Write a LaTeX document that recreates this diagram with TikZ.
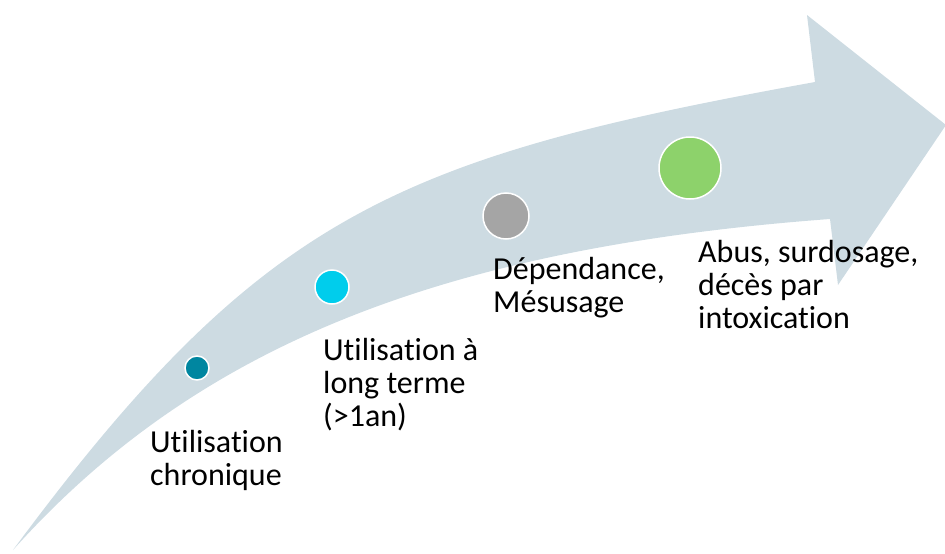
\documentclass[tikz,border=0pt]{standalone}
\usepackage{fontspec}
\setmainfont{Carlito}[Ligatures=NoCommon]
\definecolor{bandblue}{RGB}{205,219,226}
\definecolor{tealdot}{RGB}{0,134,160}
\definecolor{cyandot}{RGB}{0,205,236}
\definecolor{graydot}{RGB}{165,165,165}
\definecolor{greendot}{RGB}{141,210,107}

\begin{document}
\begin{tikzpicture}[x=1pt, y=-1pt,
  dot/.style={circle, draw=white, line width=1.5pt, inner sep=0pt},
  lbl/.style={anchor=base west, align=left, inner sep=0pt, font=\fontsize{32}{33}\selectfont}
]
  \useasboundingbox (0,0) rectangle (945,554);

  % curved arrow
  \fill[bandblue] (13,550) .. controls (262,214) and (395,158) .. (815,82)
    -- (807,15) -- (946,125) -- (838,285) -- (830,219)
    .. controls (440,248) and (195,347) .. cycle;

  \node[dot, fill=tealdot, minimum size=24pt]  (chron) at (197,368) {};
  \node[dot, fill=cyandot, minimum size=34pt]  (long)  at (332,287) {};
  \node[dot, fill=graydot, minimum size=46pt]  (dep)   at (506,216) {};
  \node[dot, fill=greendot, minimum size=62pt] (abus)  at (690,168) {};

  % base anchor sits on the last line
  \node[lbl] (chronlbl) at (150,485) {Utilisation\\chronique};
  \node[lbl] (longlbl)  at (323,426) {Utilisation à\\long terme\\(>1an)};
  \node[lbl] (deplbl)   at (493,312) {Dépendance,\\Mésusage};
  \node[lbl] (abuslbl)  at (698,328) {Abus, surdosage,\\décès par\\intoxication};
\end{tikzpicture}
\end{document}
